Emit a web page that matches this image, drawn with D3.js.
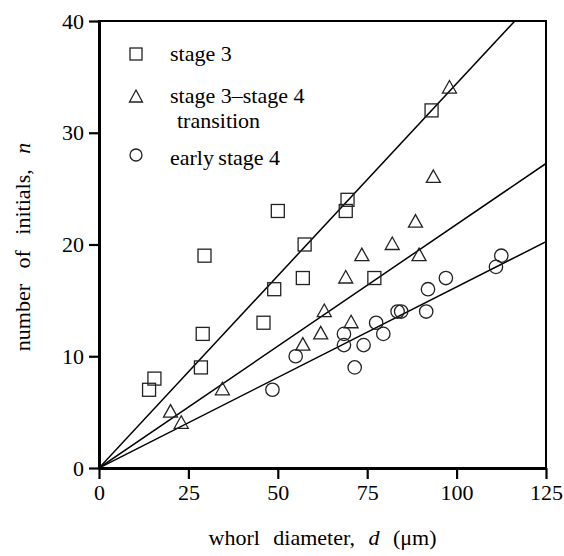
<!DOCTYPE html>
<html>
<head>
<meta charset="utf-8">
<script src="https://cdn.jsdelivr.net/npm/d3@7"></script>
<style>
  body { margin: 0; background: #fff; }
  text { font-family: "Liberation Serif", "DejaVu Serif", serif; fill: #000; }
</style>
</head>
<body>
<div id="plot"></div>
<script>
var svgWidth = 564;
var svgHeight = 556;

var margin = { top: 21, right: 18, bottom: 88, left: 99 };

// data: [diameter, initials]
var stage3 = [[14, 7], [15.5, 8], [28.5, 9], [29, 12], [29.5, 19], [46, 13], [49, 16],
  [50, 23], [57, 17], [57.5, 20], [69, 23], [69.5, 24], [77, 17], [93, 32]];
var transition = [[20, 5], [23, 4], [34.5, 7], [57, 11], [62, 12], [63, 14], [69, 17],
  [70.5, 13], [73.5, 19], [82, 20], [88.5, 22], [89.5, 19], [93.5, 26], [98, 34]];
var early4 = [[48.5, 7], [55, 10], [68.5, 12], [68.5, 11], [71.5, 9], [74, 11], [77.5, 13],
  [79.5, 12], [83.5, 14], [84.5, 14], [91.5, 14], [92, 16], [97, 17], [111, 18], [112.5, 19]];
// slopes of the fitted lines through the origin
var slopes = [0.344, 0.218, 0.162];

var xTicks = [0, 25, 50, 75, 100, 125];
var yTicks = [0, 10, 20, 30, 40];
var legendLabels = ["stage 3", "stage 3\u2013stage 4", "early\u2009stage 4"];

var width = svgWidth - margin.left - margin.right;
var height = svgHeight - margin.top - margin.bottom;

var svg = d3.select("#plot")
  .append("svg")
  .attr("width", svgWidth)
  .attr("height", svgHeight);

var chartGroup = svg.append("g")
  .attr("transform", `translate(${margin.left}, ${margin.top})`);

var xScale = d3.scaleLinear().domain([0, 125]).range([0, width]);
var yScale = d3.scaleLinear().domain([0, 40]).range([height, 0]);

// clip so the steep line stops at the frame
svg.append("clipPath").attr("id", "clip")
  .append("rect").attr("width", width).attr("height", height);

// frame
chartGroup.append("rect")
  .attr("width", width).attr("height", height)
  .attr("fill", "none").attr("stroke", "#000").attr("stroke-width", 2);

var bottomAxis = d3.axisBottom(xScale).tickValues(xTicks).tickSize(11).tickSizeOuter(0).tickPadding(5);
var leftAxis = d3.axisLeft(yScale).tickValues(yTicks).tickSize(10).tickSizeOuter(0).tickPadding(5);

var xg = chartGroup.append("g").attr("transform", `translate(0, ${height})`).call(bottomAxis);
var yg = chartGroup.append("g").call(leftAxis);
[xg, yg].forEach(function(g) {
  g.select(".domain").attr("stroke-width", 3);
  g.selectAll(".tick line").attr("stroke-width", 2.2);
  g.selectAll(".tick text").attr("font-size", "22px");
});

// fitted lines
var lines = chartGroup.append("g").attr("clip-path", "url(#clip)");
slopes.forEach(function(s) {
  lines.append("line")
    .attr("x1", xScale(0)).attr("y1", yScale(0))
    .attr("x2", xScale(125)).attr("y2", yScale(125 * s))
    .attr("stroke", "#000").attr("stroke-width", 1.5);
});

var markStroke = "#222";
var triPath = "M0,-7.5L7,5L-7,5Z";

chartGroup.selectAll(".sq").data(stage3).enter().append("rect")
  .attr("x", d => xScale(d[0]) - 6.5).attr("y", d => yScale(d[1]) - 6.5)
  .attr("width", 13).attr("height", 13)
  .attr("fill", "none").attr("stroke", markStroke).attr("stroke-width", 1.3);

chartGroup.selectAll(".tri").data(transition).enter().append("path")
  .attr("d", triPath)
  .attr("transform", d => `translate(${xScale(d[0])}, ${yScale(d[1])})`)
  .attr("fill", "none").attr("stroke", markStroke).attr("stroke-width", 1.3);

chartGroup.selectAll(".circ").data(early4).enter().append("circle")
  .attr("cx", d => xScale(d[0])).attr("cy", d => yScale(d[1]))
  .attr("r", 6.7)
  .attr("fill", "none").attr("stroke", markStroke).attr("stroke-width", 1.3);

// legend
var legend = svg.append("g");
legend.append("rect").attr("x", 130).attr("y", 48).attr("width", 12).attr("height", 12)
  .attr("fill", "none").attr("stroke", markStroke).attr("stroke-width", 1.3);
legend.append("path").attr("d", "M0,-7L6.5,5L-6.5,5Z").attr("transform", "translate(136, 97)")
  .attr("fill", "none").attr("stroke", markStroke).attr("stroke-width", 1.3);
legend.append("circle").attr("cx", 136).attr("cy", 155).attr("r", 6)
  .attr("fill", "none").attr("stroke", markStroke).attr("stroke-width", 1.3);

legend.append("text").attr("x", 170).attr("y", 61).attr("font-size", "22px").text(legendLabels[0]);
legend.append("text").attr("x", 170).attr("y", 103).attr("font-size", "22px").text(legendLabels[1]);
legend.append("text").attr("x", 177).attr("y", 128).attr("font-size", "22px").text("transition");
legend.append("text").attr("x", 170).attr("y", 165).attr("font-size", "22px").text(legendLabels[2]);

// axis titles
var xTitle = svg.append("text")
  .attr("x", margin.left + width / 2).attr("y", 545)
  .attr("text-anchor", "middle").attr("font-size", "22px").attr("word-spacing", "8px");
xTitle.append("tspan").text("whorl diameter, ");
xTitle.append("tspan").attr("font-style", "italic").text("d");
xTitle.append("tspan").text(" (\u03bcm)");

var yTitle = svg.append("text")
  .attr("transform", `translate(30, 247) rotate(-90)`)
  .attr("text-anchor", "middle").attr("font-size", "22px").attr("word-spacing", "10px");
yTitle.append("tspan").text("number of initials, ");
yTitle.append("tspan").attr("font-style", "italic").text("n");
</script>
</body>
</html>
